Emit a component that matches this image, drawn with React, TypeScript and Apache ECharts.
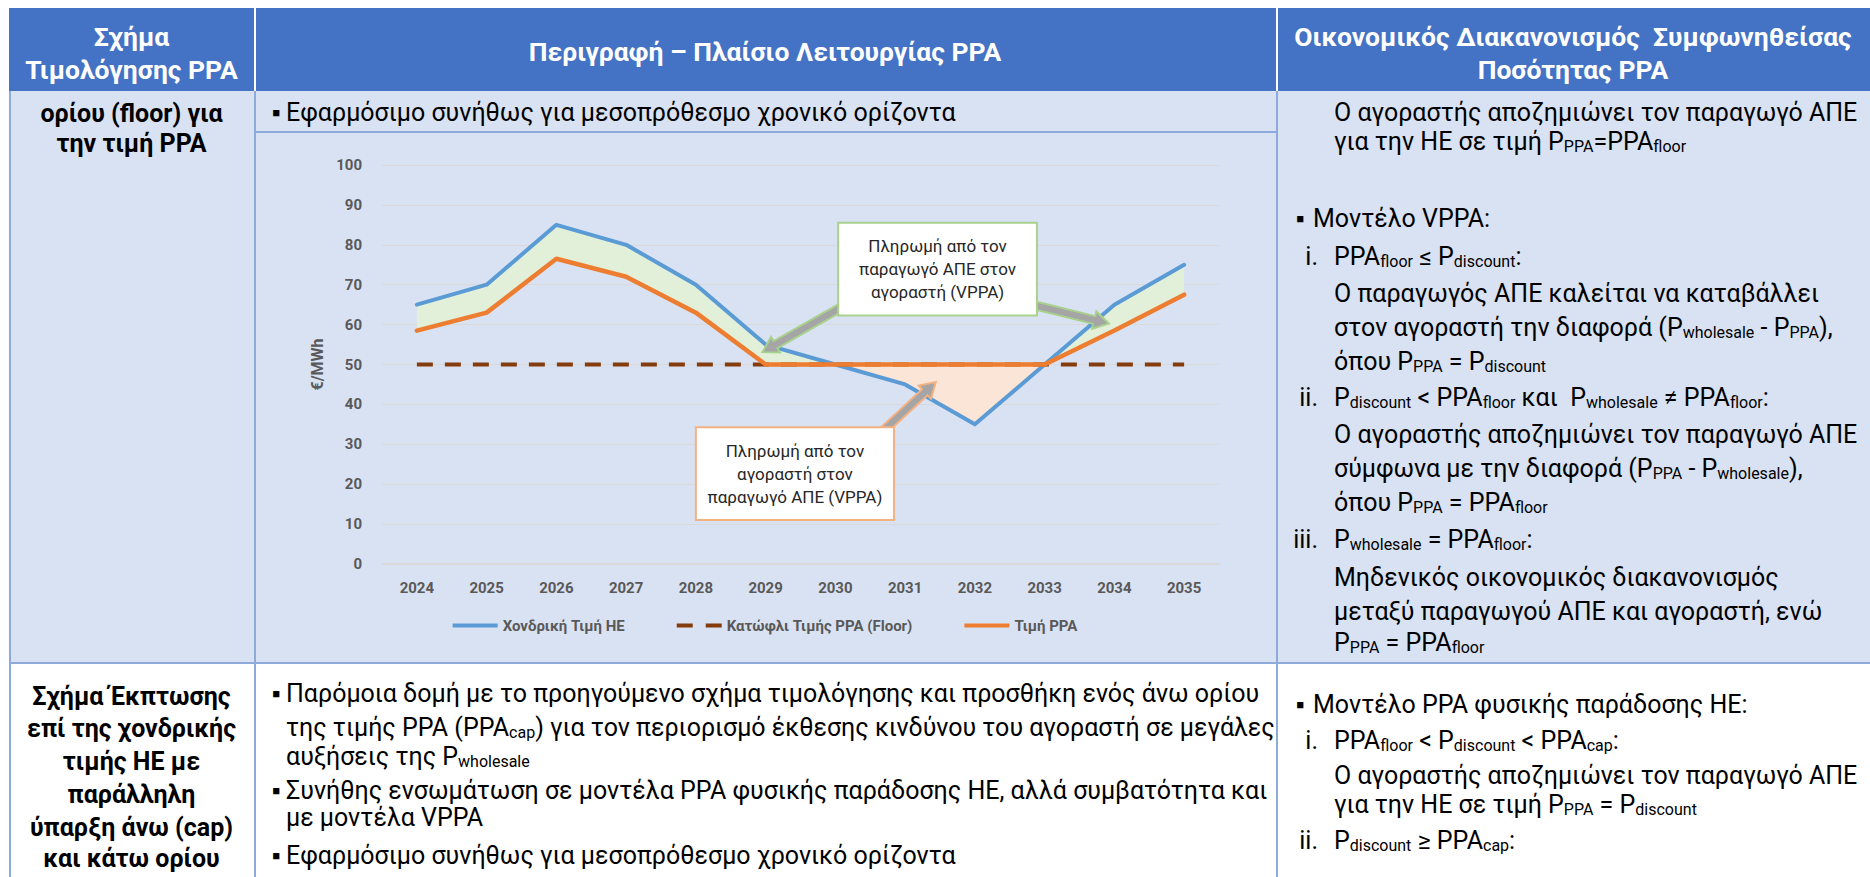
import React, { useEffect, useRef } from "react";
import * as echarts from "echarts";

// ---------------- data ----------------
const years = ["2024", "2025", "2026", "2027", "2028", "2029", "2030", "2031", "2032", "2033", "2034", "2035"];
const wholesalePrice = [65, 70, 85, 80, 70, 55, 50, 45, 35, 50, 65, 75];
const floorPrice = [50, 50, 50, 50, 50, 50, 50, 50, 50, 50, 50, 50];
const ppaPrice = [58.5, 63, 76.5, 72, 63, 50, 50, 50, 50, 50, 58.5, 67.5];
const seriesNames = ["Χονδρική Τιμή ΗΕ", "Κατώφλι Τιμής PPA (Floor)", "Τιμή PPA"];
const yAxisName = "€/MWh";
const yMin = 0;
const yMax = 100;
const yStep = 10;
const calloutProducerPays = ["Πληρωμή από τον", "παραγωγό ΑΠΕ στον", "αγοραστή (VPPA)"];
const calloutBuyerPays = ["Πληρωμή από τον", "αγοραστή στον", "παραγωγό ΑΠΕ (VPPA)"];

// ---------------- styles ----------------
const FONT = "Roboto, 'Noto Sans', sans-serif";
const HEADER_BG = "#4472C4";
const ROW1_BG = "#D9E2F3";
const BORDER = "#8EAADB";
const X0 = 9, X1 = 254, X2 = 1276, X3 = 1870;
const Y0 = 8, Y1 = 91, YSUB = 131, Y2 = 662, Y3 = 877;

function arrowPoints(s: number[], e: number[], sw: number, hw: number, hl: number) {
  const dx = e[0] - s[0], dy = e[1] - s[1];
  const len = Math.sqrt(dx * dx + dy * dy);
  const ux = dx / len, uy = dy / len;
  const nx = -uy, ny = ux;
  const bx = e[0] - ux * hl, by = e[1] - uy * hl;
  return [
    [s[0] + nx * sw / 2, s[1] + ny * sw / 2],
    [bx + nx * sw / 2, by + ny * sw / 2],
    [bx + nx * hw / 2, by + ny * hw / 2],
    [e[0], e[1]],
    [bx - nx * hw / 2, by - ny * hw / 2],
    [bx - nx * sw / 2, by - ny * sw / 2],
    [s[0] - nx * sw / 2, s[1] - ny * sw / 2],
  ];
}

function PriceChart() {
  const ref = useRef<HTMLDivElement>(null);
  useEffect(() => {
    const chart = echarts.init(ref.current!, undefined, { renderer: "svg" });
    const greenGap = wholesalePrice.map((w, i) => Math.max(w - ppaPrice[i], 0));
    const peachGap = wholesalePrice.map((w, i) => Math.max(ppaPrice[i] - w, 0));
    const hidden = {
      type: "line",
      symbol: "none",
      lineStyle: { width: 0, opacity: 0 },
      silent: true,
      emphasis: { disabled: true },
      z: 1,
    };
    const labelStyle = { color: "#595959", fontWeight: "bold", fontSize: 15, fontFamily: FONT };
    chart.setOption({
      animation: false,
      textStyle: { fontFamily: FONT },
      grid: { left: 127, right: 56, top: 33, bottom: 98 },
      legend: {
        data: [
          { name: seriesNames[0], icon: "rect" },
          { name: seriesNames[1], icon: "path://M0,0H16V4H0Z M29,0H45V4H29Z" },
          { name: seriesNames[2], icon: "rect" },
        ],
        top: 481,
        left: "center",
        itemWidth: 45,
        itemHeight: 4,
        itemGap: 52,
        textStyle: labelStyle,
      },
      xAxis: {
        type: "category",
        data: years,
        boundaryGap: true,
        axisTick: { show: false },
        axisLine: { lineStyle: { color: "#D9D9D9", width: 1.5 } },
        axisLabel: { ...labelStyle, margin: 16 },
        splitLine: { show: false },
      },
      yAxis: {
        type: "value",
        min: yMin,
        max: yMax,
        interval: yStep,
        axisLine: { show: false },
        axisTick: { show: false },
        axisLabel: { ...labelStyle, margin: 20 },
        splitLine: { lineStyle: { color: "#D9D9D9", width: 1 } },
        name: yAxisName,
        nameLocation: "middle",
        nameGap: 50,
        nameRotate: 90,
        nameTextStyle: { ...labelStyle, fontSize: 16 },
      },
      series: [
        { ...hidden, name: "fillBaseA", stack: "a", data: ppaPrice },
        { ...hidden, name: "fillA", stack: "a", data: greenGap, areaStyle: { color: "#E2F0D9", opacity: 1 } },
        { ...hidden, name: "fillBaseB", stack: "b", data: wholesalePrice },
        { ...hidden, name: "fillB", stack: "b", data: peachGap, areaStyle: { color: "#FBE5D6", opacity: 1 } },
        {
          type: "line", name: seriesNames[0], data: wholesalePrice, symbol: "none", z: 3,
          lineStyle: { color: "#5B9BD5", width: 4, join: "round", cap: "round" }, itemStyle: { color: "#5B9BD5" },
        },
        {
          type: "line", name: seriesNames[1], data: floorPrice, symbol: "none", z: 3,
          lineStyle: { color: "#843C0C", width: 4, type: [16, 12] }, itemStyle: { color: "#843C0C" },
        },
        {
          type: "line", name: seriesNames[2], data: ppaPrice, symbol: "none", z: 4,
          lineStyle: { color: "#ED7D31", width: 4.5, join: "round", cap: "round" }, itemStyle: { color: "#ED7D31" },
        },
      ],
    });

    const n = years.length - 1;
    const pt = (f: number, v: number) => {
      const a = chart.convertToPixel({ gridIndex: 0 }, [0, v]) as number[];
      const b = chart.convertToPixel({ gridIndex: 0 }, [n, v]) as number[];
      return [a[0] + ((b[0] - a[0]) * f) / n, a[1]];
    };
    const box = (p0: number[], p1: number[], stroke: string, lines: string[]) => [
      {
        type: "rect", z: 60,
        shape: { x: p0[0], y: p0[1], width: p1[0] - p0[0], height: p1[1] - p0[1] },
        style: { fill: "#FFFFFF", stroke, lineWidth: 2 },
      },
      {
        type: "text", z: 61,
        style: {
          text: lines.join("\n"),
          x: (p0[0] + p1[0]) / 2, y: (p0[1] + p1[1]) / 2,
          textAlign: "center", textVerticalAlign: "middle", align: "center", verticalAlign: "middle",
          fontSize: 17, fontFamily: "Roboto", lineHeight: 23, fill: "#262626",
        },
      },
    ];
    const arrow = (s: number[], e: number[], stroke: string) => ({
      type: "polygon", z: 55,
      shape: { points: arrowPoints(s, e, 8, 18, 15) },
      style: { fill: "#A5A5A5", stroke, lineWidth: 2 },
    });
    chart.setOption({
      graphic: [
        arrow(pt(6.2, 65.5), pt(4.955, 53.1), "#A9D18E"),
        arrow(pt(8.7, 65.5), pt(9.92, 60.25), "#A9D18E"),
        arrow(pt(6.6, 32), pt(7.44, 45.6), "#F4B183"),
        ...box(pt(6.04, 85.5), pt(8.89, 62.25), "#A9D18E", calloutProducerPays),
        ...box(pt(4.0, 34.25), pt(6.84, 11), "#F4B183", calloutBuyerPays),
      ],
    });
    return () => chart.dispose();
  }, []);
  return <div ref={ref} style={{ position: "absolute", left: 255, top: 132, width: 1020, height: 530 }} />;
}

// ---------------- table helpers ----------------
type LP = {
  x: number; y: number; w?: number; align?: "left" | "center" | "right";
  bold?: boolean; size?: number; color?: string; children: React.ReactNode;
};
function L({ x, y, w, align = "left", bold = false, size = 25, color = "#000", children }: LP) {
  const h = Math.round(size * 1.25);
  return (
    <div
      style={{
        position: "absolute", left: x, top: y - h / 2, width: w, height: h, lineHeight: `${h}px`,
        fontSize: size, fontWeight: bold ? 700 : 400, color, textAlign: align, whiteSpace: "pre", fontFamily: FONT,
      }}
    >
      {children}
    </div>
  );
}
const S = ({ t }: { t: string }) => <span style={{ fontSize: "0.64em", verticalAlign: "-0.15em" }}>{t}</span>;
const Box = ({ x, y, w, h, c }: { x: number; y: number; w: number; h: number; c: string }) => (
  <div style={{ position: "absolute", left: x, top: y, width: w, height: h, background: c }} />
);

const C1W = X1 - X0, C2W = X2 - X1, C3W = X3 - X2;
const B2 = 272, T2 = 286; // col2 bullet / text
const B3 = 1296, BT3 = 1313, T3 = 1334, NR = 1258; // col3

const H = (p: { y: number; x: number; w: number; children: React.ReactNode }) => (
  <L x={p.x} y={p.y} w={p.w} align="center" bold size={26.5} color="#FFFFFF">{p.children}</L>
);
const C1 = (p: { y: number; children: React.ReactNode }) => (
  <L x={X0} y={p.y} w={C1W} align="center" bold size={25}>{p.children}</L>
);
const Num = (p: { y: number; children: React.ReactNode }) => (
  <L x={NR} y={p.y} w={60} align="right">{p.children}</L>
);

export default function App() {
  return (
    <div style={{ position: "absolute", left: 0, top: 0, width: 1870, height: 877, overflow: "hidden", background: "#FFFFFF" }}>
      {/* backgrounds */}
      <Box x={X0} y={Y0} w={X3 - X0} h={Y1 - Y0} c={HEADER_BG} />
      <Box x={X0} y={Y1} w={X3 - X0} h={Y2 - Y1} c={ROW1_BG} />
      {/* header separators */}
      <Box x={X1} y={Y0} w={1.5} h={Y1 - Y0} c="#FFFFFF" />
      <Box x={X2} y={Y0} w={1.5} h={Y1 - Y0} c="#FFFFFF" />
      {/* borders */}
      <Box x={X0} y={Y1} w={1.5} h={Y3 - Y1} c={BORDER} />
      <Box x={X1} y={Y1} w={1.5} h={Y3 - Y1} c={BORDER} />
      <Box x={X2} y={Y1} w={1.5} h={Y3 - Y1} c={BORDER} />
      <Box x={X0} y={Y2} w={X3 - X0} h={2} c={BORDER} />
      <Box x={X1} y={YSUB} w={C2W} h={2} c={BORDER} />

      {/* header */}
      <H x={X0} w={C1W} y={36}>Σχήμα</H>
      <H x={X0} w={C1W} y={69}>Τιμολόγησης PPA</H>
      <H x={X1} w={C2W} y={51}>Περιγραφή – Πλαίσιο Λειτουργίας PPA</H>
      <H x={X2} w={C3W} y={36}>Οικονομικός Διακανονισμός  Συμφωνηθείσας</H>
      <H x={X2} w={C3W} y={69}>Ποσότητας PPA</H>

      {/* row 1 */}
      <C1 y={113}>ορίου (floor) για</C1>
      <C1 y={143}>την τιμή PPA</C1>
      <L x={B2} y={112}>▪</L>
      <L x={T2} y={112}>Εφαρμόσιμο συνήθως για μεσοπρόθεσμο χρονικό ορίζοντα</L>

      <L x={T3} y={112}>Ο αγοραστής αποζημιώνει τον παραγωγό ΑΠΕ</L>
      <L x={T3} y={141}>για την ΗΕ σε τιμή P<S t="PPA" />=PPA<S t="floor" /></L>
      <L x={B3} y={218}>▪</L>
      <L x={BT3} y={218}>Μοντέλο VPPA:</L>
      <Num y={256}>i.</Num>
      <L x={T3} y={256}>PPA<S t="floor" /> ≤ P<S t="discount" />:</L>
      <L x={T3} y={293}>Ο παραγωγός ΑΠΕ καλείται να καταβάλλει</L>
      <L x={T3} y={327}>στον αγοραστή την διαφορά (P<S t="wholesale" /> - P<S t="PPA" />),</L>
      <L x={T3} y={361}>όπου P<S t="PPA" /> = P<S t="discount" /></L>
      <Num y={397}>ii.</Num>
      <L x={T3} y={397}>P<S t="discount" /> {"<"} PPA<S t="floor" /> και  P<S t="wholesale" /> ≠ PPA<S t="floor" />:</L>
      <L x={T3} y={434}>Ο αγοραστής αποζημιώνει τον παραγωγό ΑΠΕ</L>
      <L x={T3} y={468}>σύμφωνα με την διαφορά (P<S t="PPA" /> - P<S t="wholesale" />),</L>
      <L x={T3} y={502}>όπου P<S t="PPA" /> = PPA<S t="floor" /></L>
      <Num y={539}>iii.</Num>
      <L x={T3} y={539}>P<S t="wholesale" /> = PPA<S t="floor" />:</L>
      <L x={T3} y={577}>Μηδενικός οικονομικός διακανονισμός</L>
      <L x={T3} y={611}>μεταξύ παραγωγού ΑΠΕ και αγοραστή, ενώ</L>
      <L x={T3} y={642}>P<S t="PPA" /> = PPA<S t="floor" /></L>

      {/* row 2 */}
      <C1 y={696}>Σχήμα Έκπτωσης</C1>
      <C1 y={728}>επί της χονδρικής</C1>
      <C1 y={761}>τιμής ΗΕ με</C1>
      <C1 y={794}>παράλληλη</C1>
      <C1 y={827}>ύπαρξη άνω (cap)</C1>
      <C1 y={858}>και κάτω ορίου</C1>

      <L x={B2} y={693}>▪</L>
      <L x={T2} y={693}>Παρόμοια δομή με το προηγούμενο σχήμα τιμολόγησης και προσθήκη ενός άνω ορίου</L>
      <L x={T2} y={727}>της τιμής PPA (PPA<S t="cap" />) για τον περιορισμό έκθεσης κινδύνου του αγοραστή σε μεγάλες</L>
      <L x={T2} y={756}>αυξήσεις της P<S t="wholesale" /></L>
      <L x={B2} y={790}>▪</L>
      <L x={T2} y={790}>Συνήθης ενσωμάτωση σε μοντέλα PPA φυσικής παράδοσης ΗΕ, αλλά συμβατότητα και</L>
      <L x={T2} y={817}>με μοντέλα VPPA</L>
      <L x={B2} y={855}>▪</L>
      <L x={T2} y={855}>Εφαρμόσιμο συνήθως για μεσοπρόθεσμο χρονικό ορίζοντα</L>

      <L x={B3} y={704}>▪</L>
      <L x={BT3} y={704}>Μοντέλο PPA φυσικής παράδοσης ΗΕ:</L>
      <Num y={740}>i.</Num>
      <L x={T3} y={740}>PPA<S t="floor" /> {"<"} P<S t="discount" /> {"<"} PPA<S t="cap" />:</L>
      <L x={T3} y={775}>Ο αγοραστής αποζημιώνει τον παραγωγό ΑΠΕ</L>
      <L x={T3} y={804}>για την ΗΕ σε τιμή P<S t="PPA" /> = P<S t="discount" /></L>
      <Num y={840}>ii.</Num>
      <L x={T3} y={840}>P<S t="discount" /> ≥ PPA<S t="cap" />:</L>

      <PriceChart />
    </div>
  );
}
